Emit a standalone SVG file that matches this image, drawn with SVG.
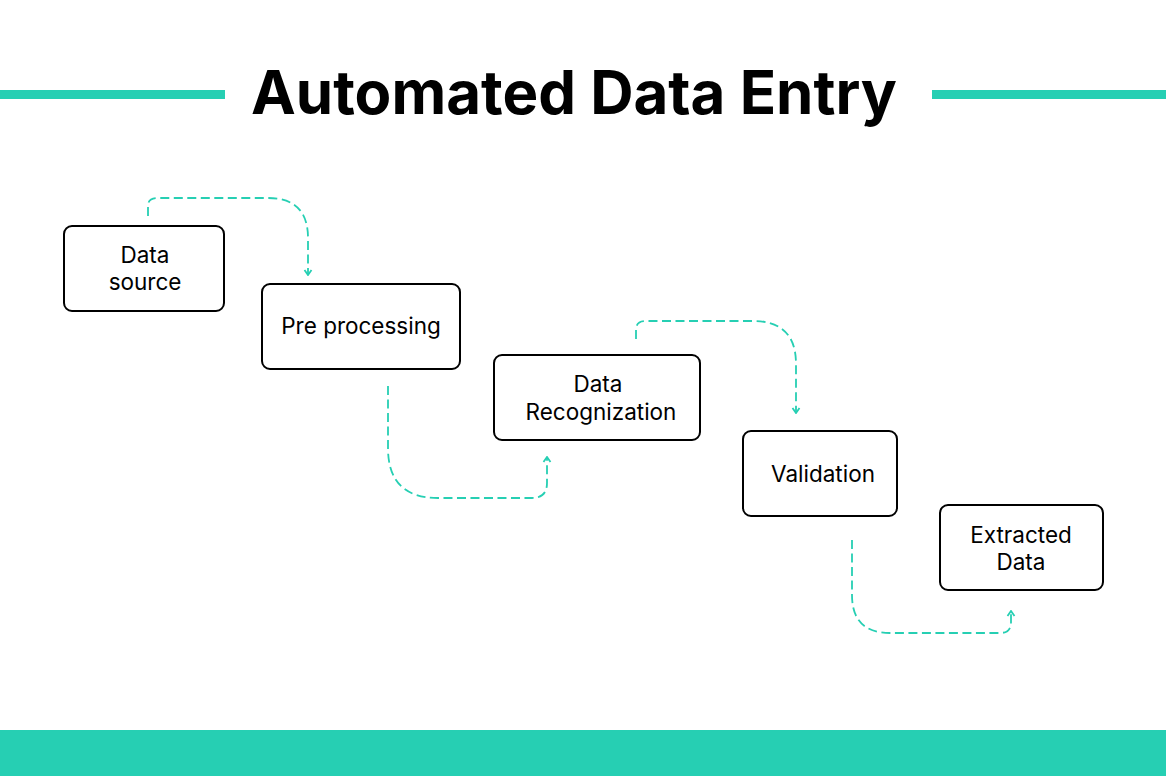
<svg xmlns="http://www.w3.org/2000/svg" width="1166" height="776" viewBox="0 0 1166 776">
<style>
.box{fill:#fff;stroke:#000;stroke-width:2}
.lbl{font-family:Inter,"Noto Sans","Liberation Sans",sans-serif;font-size:22.5px;fill:#000;text-anchor:middle}
.conn{fill:none;stroke:#26CFB3;stroke-width:1.8;stroke-dasharray:9 4.5}
.title{font-family:Inter,"Noto Sans","Liberation Sans",sans-serif;font-size:60px;font-weight:700;fill:#000;text-anchor:middle}
</style>
<defs>
<marker id="ah" viewBox="0 0 10 10" refX="9" refY="5" markerWidth="10" markerHeight="10" markerUnits="userSpaceOnUse" orient="auto">
<path d="M4 1.5 L9 5 L4 8.5" fill="none" stroke="#26CFB3" stroke-width="1.8"/>
</marker>
</defs>
<rect width="1166" height="776" fill="#fff"/>
<rect x="0" y="90" width="225" height="9" fill="#26CFB3"/>
<rect x="932" y="90" width="234" height="9" fill="#26CFB3"/>
<text class="title" x="574" y="114">Automated Data Entry</text>
<rect x="0" y="730" width="1166" height="46" fill="#26CFB3"/>
<g id="connectors">
<path class="conn" d="M148 216 V206 Q148 198 157 198 H268 Q308 198 308 238 V275" marker-end="url(#ah)"/>
<path class="conn" d="M388 386 V448 Q388 498 438 498 H532 Q547 498 547 483 V457" marker-end="url(#ah)"/>
<path class="conn" d="M636 339 V330 Q636 321 645 321 H753 Q796 321 796 364 V413" marker-end="url(#ah)"/>
<path class="conn" d="M852 540 V595 Q852 633 890 633 H1000 Q1011 633 1011 622 V611" marker-end="url(#ah)"/>
</g>
<g id="data-source">
<rect class="box" x="64" y="226" width="160" height="85" rx="8"/>
<text class="lbl" x="145" y="263">Data</text>
<text class="lbl" x="145" y="290">source</text>
</g>
<g id="pre-processing">
<rect class="box" x="262" y="284" width="198" height="85" rx="8"/>
<text class="lbl" x="361" y="334">Pre processing</text>
</g>
<g id="data-recognization">
<rect class="box" x="494" y="355" width="206" height="85" rx="8"/>
<text class="lbl" x="598" y="392">Data</text>
<text class="lbl" x="601" y="420">Recognization</text>
</g>
<g id="validation">
<rect class="box" x="743" y="431" width="154" height="85" rx="8"/>
<text class="lbl" x="823" y="482">Validation</text>
</g>
<g id="extracted-data">
<rect class="box" x="940" y="505" width="163" height="85" rx="8"/>
<text class="lbl" x="1021" y="543">Extracted</text>
<text class="lbl" x="1021" y="570">Data</text>
</g>
</svg>
